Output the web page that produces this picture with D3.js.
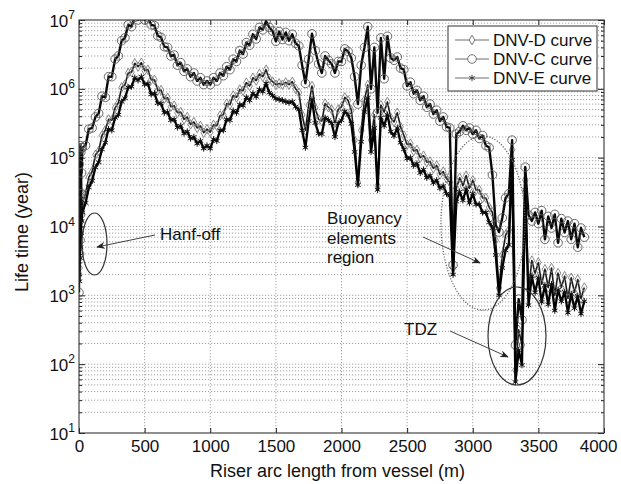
<!DOCTYPE html>
<html>
<head>
<meta charset="utf-8">
<script src="https://cdn.jsdelivr.net/npm/d3@7"></script>
<style>
  body { margin: 0; background: #fff; }
  text { font-family: "Liberation Sans", Arial, Helvetica, sans-serif; fill: #111; }
</style>
</head>
<body>
<svg id="chart" width="621" height="484"></svg>
<script>
// Arc length along the riser, measured from the vessel (m)
const arcLength = [
  0, 2, 4, 6, 8, 10, 12, 14, 16, 18, 20,
  25, 50, 75, 100, 125, 150, 175, 200,
  225, 250, 275, 300, 325, 350, 375, 400,
  425, 450, 475, 500, 525, 550, 575, 600,
  625, 650, 675, 700, 725, 750, 775, 800,
  825, 850, 875, 900, 925, 950, 975, 1000,
  1025, 1050, 1075, 1100, 1125, 1150, 1175, 1200,
  1225, 1250, 1275, 1300, 1325, 1350, 1375, 1400,
  1425, 1450, 1475, 1500, 1525, 1550, 1575, 1600,
  1625, 1650, 1675, 1700, 1725, 1750, 1775, 1800,
  1825, 1850, 1875, 1900, 1925, 1950, 1975, 2000,
  2025, 2050, 2075, 2100, 2125, 2150, 2175, 2200,
  2225, 2250, 2275, 2300, 2325, 2350, 2375, 2400,
  2425, 2450, 2475, 2500, 2525, 2550, 2575, 2600,
  2625, 2650, 2675, 2700, 2725, 2750, 2775, 2800,
  2825, 2850, 2875, 2900, 2925, 2950, 2975, 3000,
  3025, 3050, 3075, 3100, 3125, 3150, 3175, 3200,
  3225, 3250, 3275, 3300, 3325, 3350, 3375, 3400,
  3425, 3450, 3475, 3500, 3525, 3550, 3575, 3600,
  3625, 3650, 3675, 3700, 3725, 3750, 3775, 3800,
  3825, 3850
];

// Fatigue life (years) with the DNV-D S-N curve
const lifeDnvD = [
  3.3e3, 2.4e4, 2.5e3, 2.9e4, 5e3, 3.5e4, 8e3, 2.5e4, 1.2e4, 3e4, 1.8e4,
  2.2e4, 3.0e4, 5.2e4, 6.3e4, 1.1e5, 1.25e5, 2.1e5, 2.5e5,
  3.6e5, 3.5e5, 5.3e5, 6.3e5, 1.05e6, 1.15e6, 1.7e6, 1.75e6,
  2.35e6, 2.1e6, 2.4e6, 1.85e6, 1.9e6, 1.35e6, 1.35e6, 9.5e5,
  9.6e5, 7.2e5, 7.4e5, 5.5e5, 5.7e5, 4.5e5, 4.6e5, 3.6e5,
  3.9e5, 3.05e5, 3.3e5, 2.7e5, 2.9e5, 2.3e5, 2.6e5, 2.35e5,
  3.0e5, 2.9e5, 4.1e5, 4.2e5, 6.1e5, 5.9e5, 8.0e5, 7.5e5,
  9.8e5, 9.4e5, 1.23e6, 1.1e6, 1.45e6, 1.32e6, 1.65e6, 1.5e6,
  1.9e6, 1.4e6, 1.27e6, 1.15e6, 1.2e6, 1.15e6, 1.24e6, 1.15e6,
  1.27e6, 1.0e6, 8.8e5, 4.2e5, 2.5e5, 5.8e5, 1.1e6, 5.3e5,
  3.6e5, 3.4e5, 6.1e5, 5.4e5, 5.0e5, 3.2e5, 5.0e5, 5.5e5,
  7.5e5, 6.8e5, 4.9e5, 1.8e5, 4.4e4, 2.5e5, 6.9e5, 1.14e6,
  1.8e5, 4.2e5, 3.9e4, 5.8e5, 4.6e5, 6.45e5, 3.8e5, 3.3e5,
  4.5e5, 2.8e5, 2.1e5, 1.55e5, 1.6e5, 1.25e5, 1.3e5, 1.0e5,
  1.07e5, 8.6e4, 8.8e4, 7.0e4, 7.7e4, 5.7e4, 6.3e4, 5.0e4,
  4.4e4, 2.5e3, 3.6e4, 5.1e4, 3.9e4, 5.5e4, 3.6e4, 4.7e4,
  3.4e4, 3.4e4, 2.6e4, 2.6e4, 1.9e4, 1.6e4, 6.3e3, 1.28e3,
  3.85e3, 7.5e3, 8.9e3, 1.3e5, 82, 315, 190, 4.75e4,
  1.2e3, 3.2e3, 2.1e3, 3.0e3, 1.45e3, 2.4e3, 1.3e3, 2.5e3,
  1.0e3, 2.1e3, 1.3e3, 1.9e3, 900, 1.8e3, 1.1e3, 1.7e3,
  900, 1.3e3
];

// Fatigue life (years) with the DNV-C S-N curve
const lifeDnvC = [
  1.1e3, 8e4, 4e3, 1.3e5, 6.3e3, 1.5e5, 1.5e4, 1.2e5, 3e4, 1.4e5, 6e4,
  1.4e5, 1.5e5, 2.6e5, 2.7e5, 3.9e5, 4.4e5, 7.8e5, 7.5e5,
  1.5e6, 1.5e6, 2.7e6, 3.0e6, 5.0e6, 5.5e6, 8.5e6, 8.0e6,
  1.1e7, 1.0e7, 1.15e7, 1.0e7, 1.1e7, 8.5e6, 8.3e6, 5.9e6,
  5.6e6, 4.1e6, 4.0e6, 3.0e6, 3.1e6, 2.2e6, 2.4e6, 1.8e6,
  1.95e6, 1.5e6, 1.7e6, 1.3e6, 1.45e6, 1.15e6, 1.3e6, 1.15e6,
  1.45e6, 1.3e6, 1.7e6, 1.55e6, 2.1e6, 1.9e6, 2.7e6, 2.5e6,
  3.6e6, 3.2e6, 4.7e6, 4.3e6, 6.2e6, 5.3e6, 7.8e6, 7.2e6,
  9.6e6, 7.8e6, 6.9e6, 4.9e6, 6.8e6, 5.2e6, 6.6e6, 5.0e6,
  6.2e6, 4.6e6, 4.2e6, 2.2e6, 1.2e6, 2.7e6, 6.3e6, 3.6e6,
  2.3e6, 1.7e6, 3.0e6, 2.6e6, 2.3e6, 1.7e6, 2.5e6, 2.5e6,
  3.8e6, 3.5e6, 2.8e6, 1.5e6, 6.0e5, 2.2e6, 4.0e6, 8.0e6,
  1.0e6, 4.0e6, 4.5e5, 5.5e6, 1.4e6, 5.8e6, 2.8e6, 2.6e6,
  2.9e6, 2.0e6, 1.9e6, 1.1e6, 1.25e6, 8.5e5, 9.5e5, 6.8e5,
  7.8e5, 5.4e5, 6.0e5, 4.3e5, 4.9e5, 3.4e5, 3.9e5, 2.8e5,
  2.7e5, 2.75e3, 2.2e5, 2.4e5, 2.9e5, 2.5e5, 2.7e5, 2.2e5,
  2.5e5, 1.9e5, 2.1e5, 1.5e5, 1.4e5, 5.6e4, 1.05e4, 8.3e3,
  1.33e4, 2.6e4, 3.0e4, 1.8e5, 190, 880, 440, 7.3e4,
  1.47e4, 1.2e4, 1.6e4, 1.1e4, 1.7e4, 6.5e3, 1.4e4, 9.5e3,
  1.5e4, 5.8e3, 1.3e4, 8.2e3, 1.2e4, 6.5e3, 1.1e4, 5.0e3,
  9.5e3, 7.0e3
];

// Fatigue life (years) with the DNV-E S-N curve
const lifeDnvE = [
  2.0e3, 1.7e4, 1.6e3, 2.0e4, 3.5e3, 2.5e4, 5e3, 1.8e4, 8e3, 2.2e4, 1.2e4,
  1.6e4, 2.2e4, 3.7e4, 4.6e4, 7.2e4, 8.6e4, 1.32e5, 1.65e5,
  2.6e5, 2.5e5, 3.8e5, 4.2e5, 6.5e5, 7.3e5, 1.05e6, 1.08e6,
  1.45e6, 1.33e6, 1.5e6, 1.16e6, 1.19e6, 8.3e5, 8.6e5, 6.2e5,
  6.1e5, 4.5e5, 4.6e5, 3.5e5, 3.6e5, 2.75e5, 2.9e5, 2.25e5,
  2.4e5, 1.9e5, 2.0e5, 1.6e5, 1.75e5, 1.36e5, 1.5e5, 1.36e5,
  1.85e5, 1.75e5, 2.5e5, 2.5e5, 3.6e5, 3.5e5, 4.8e5, 4.5e5,
  5.9e5, 5.7e5, 7.5e5, 6.8e5, 8.6e5, 7.7e5, 9.8e5, 9.1e5,
  1.2e6, 8.8e5, 8.0e5, 7.2e5, 7.0e5, 6.8e5, 6.5e5, 6.3e5,
  6.5e5, 5.5e5, 5.0e5, 2.5e5, 1.4e5, 3.4e5, 7.0e5, 3.2e5,
  2.25e5, 2.2e5, 3.8e5, 3.5e5, 3.15e5, 2.0e5, 3.15e5, 3.5e5,
  4.7e5, 4.2e5, 3.1e5, 1.21e5, 4.0e4, 1.7e5, 4.6e5, 7.4e5,
  1.21e5, 2.7e5, 3.4e4, 3.8e5, 2.9e5, 4.2e5, 2.4e5, 2.07e5,
  2.7e5, 1.65e5, 1.32e5, 9.7e4, 1.0e5, 7.7e4, 8.2e4, 6.0e4,
  6.7e4, 5.1e4, 5.5e4, 4.3e4, 4.7e4, 3.6e4, 3.9e4, 3.0e4,
  2.8e4, 2.0e3, 2.3e4, 3.2e4, 2.4e4, 3.5e4, 2.2e4, 3.0e4,
  2.1e4, 2.1e4, 1.6e4, 1.6e4, 1.15e4, 9.5e3, 3.85e3, 1.0e3,
  2.5e3, 4.5e3, 5.4e3, 9.3e4, 55, 160, 97, 3.4e4,
  720, 1.9e3, 1.1e3, 1.8e3, 800, 1.4e3, 740, 1.45e3,
  600, 1.2e3, 820, 1.12e3, 560, 1.05e3, 650, 980,
  540, 820
];

const seriesNames = ["DNV-D curve", "DNV-C curve", "DNV-E curve"];
const xTickValues = [0, 500, 1000, 1500, 2000, 2500, 3000, 3500, 4000];
const yTickExponents = [1, 2, 3, 4, 5, 6, 7];

const svg = d3.select("#chart");
const plot = { left: 79, right: 604, top: 20, bottom: 433 };

const x = d3.scaleLinear().domain([0, 4000]).range([plot.left, plot.right]);
const y = d3.scaleLog().domain([10, 1e7]).range([plot.bottom, plot.top]);

// minor decade positions (2..9 x 10^n)
const minorY = [];
yTickExponents.slice(0, -1).forEach(e => {
  for (let k = 2; k <= 9; k++) minorY.push(k * Math.pow(10, e));
});
const majorY = yTickExponents.map(e => Math.pow(10, e));

const defs = svg.append("defs");
defs.append("clipPath").attr("id", "plotClip")
  .append("rect")
  .attr("x", plot.left).attr("y", plot.top)
  .attr("width", plot.right - plot.left).attr("height", plot.bottom - plot.top);

// ---- dotted grid ----
const grid = svg.append("g").attr("stroke", "#8c8c8c").attr("stroke-width", 0.8)
  .attr("stroke-dasharray", "1.2,1.8").attr("fill", "none");
grid.selectAll("line.gy").data(minorY.concat(majorY.slice(1, -1))).join("line")
  .attr("x1", plot.left).attr("x2", plot.right)
  .attr("y1", d => y(d)).attr("y2", d => y(d));
grid.selectAll("line.gx").data(xTickValues.slice(1, -1)).join("line")
  .attr("y1", plot.top).attr("y2", plot.bottom)
  .attr("x1", d => x(d)).attr("x2", d => x(d));

// ---- axes ----
const xAxis = svg.append("g").attr("transform", `translate(0,${plot.bottom})`)
  .call(d3.axisBottom(x).tickValues(xTickValues).tickSize(-5).tickPadding(7)
    .tickFormat(d3.format("d")));
xAxis.select(".domain").remove();
xAxis.selectAll("text").attr("font-size", 17).style("font-family", '"Liberation Sans", Arial, sans-serif');
xAxis.selectAll("line").attr("stroke", "#222");
// keep the last label inside the page
xAxis.selectAll(".tick").filter(d => d === 4000).select("text")
  .attr("text-anchor", "end").attr("x", 13);

const xAxisTop = svg.append("g").attr("transform", `translate(0,${plot.top})`)
  .call(d3.axisTop(x).tickValues(xTickValues).tickSize(-5).tickFormat(""));
xAxisTop.select(".domain").remove();
xAxisTop.selectAll("line").attr("stroke", "#222");

function yTicks(side, pos, values, len) {
  const axis = side === "left" ? d3.axisLeft(y) : d3.axisRight(y);
  const g = svg.append("g").attr("transform", `translate(${pos},0)`)
    .call(axis.tickValues(values).tickSize(-len).tickFormat(""));
  g.select(".domain").remove();
  g.selectAll("line").attr("stroke", "#222");
}
yTicks("left", plot.left, majorY, 6);
yTicks("left", plot.left, minorY, 3);
yTicks("right", plot.right, majorY, 6);
yTicks("right", plot.right, minorY, 3);

// power-of-ten labels
const yLabels = svg.append("g");
yTickExponents.forEach(e => {
  const t = yLabels.append("text")
    .attr("x", 75).attr("y", y(Math.pow(10, e)) + 6.5)
    .attr("text-anchor", "end").attr("font-size", 17);
  t.append("tspan").text("10");
  t.append("tspan").attr("dy", -7.5).attr("font-size", 12).text(e);
});

// ---- series ----
const symbols = {
  diamond: d3.symbol(d3.symbolDiamond, 26),
  circle: d3.symbol(d3.symbolCircle, 58),
  asterisk: d3.symbol(d3.symbolAsterisk, 28)
};
const series = [
  { name: seriesNames[0], values: lifeDnvD, sym: "diamond", line: "#1c1c1c", lw: 1.6, mk: "#7d7d7d", mw: 0.9 },
  { name: seriesNames[1], values: lifeDnvC, sym: "circle", line: "#0a0a0a", lw: 2.4, mk: "#5a5a5a", mw: 0.9 },
  { name: seriesNames[2], values: lifeDnvE, sym: "asterisk", line: "#000", lw: 2.3, mk: "#111", mw: 1.0 }
];

const lineGen = d3.line().x(d => x(d[0])).y(d => y(d[1]));
const plotArea = svg.append("g").attr("clip-path", "url(#plotClip)");
series.forEach(s => {
  const pts = arcLength.map((a, i) => [a, s.values[i]]);
  const g = plotArea.append("g");
  g.append("path").datum(pts)
    .attr("d", lineGen).attr("fill", "none")
    .attr("stroke", s.line).attr("stroke-width", s.lw).attr("stroke-linejoin", "round");
  g.selectAll("path.mk").data(pts).join("path").attr("class", "mk")
    .attr("transform", d => `translate(${x(d[0])},${y(d[1])})`)
    .attr("d", symbols[s.sym])
    .attr("fill", "none").attr("stroke", s.mk).attr("stroke-width", s.mw);
});

// frame
svg.append("rect")
  .attr("x", plot.left).attr("y", plot.top)
  .attr("width", plot.right - plot.left).attr("height", plot.bottom - plot.top)
  .attr("fill", "none").attr("stroke", "#333").attr("stroke-width", 1.1);

// ---- annotations ----
defs.append("marker").attr("id", "arrowHead")
  .attr("viewBox", "0 0 10 8").attr("refX", 9).attr("refY", 4)
  .attr("markerWidth", 9).attr("markerHeight", 7).attr("markerUnits", "userSpaceOnUse")
  .attr("orient", "auto")
  .append("path").attr("d", "M0,0 L10,4 L0,8 L3,4 Z").attr("fill", "#222");

const ann = svg.append("g");
ann.append("ellipse").attr("cx", 94.5).attr("cy", 244).attr("rx", 12.5).attr("ry", 31)
  .attr("fill", "none").attr("stroke", "#333").attr("stroke-width", 1.2);
ann.append("line").attr("x1", 155).attr("y1", 235).attr("x2", 97).attr("y2", 247)
  .attr("stroke", "#444").attr("stroke-width", 1).attr("marker-end", "url(#arrowHead)");
ann.append("text").attr("x", 160).attr("y", 240).attr("font-size", 17).text("Hanf-off");

ann.append("ellipse").attr("cx", 483).attr("cy", 223).attr("rx", 42).attr("ry", 87)
  .attr("fill", "none").attr("stroke", "#666").attr("stroke-width", 1.3)
  .attr("stroke-dasharray", "1.2,1.6");
ann.append("line").attr("x1", 423).attr("y1", 237).attr("x2", 480).attr("y2", 263)
  .attr("stroke", "#444").attr("stroke-width", 1).attr("marker-end", "url(#arrowHead)");
const buoy = ann.append("text").attr("x", 327).attr("y", 224).attr("font-size", 17);
["Buoyancy", "elements", "region"].forEach((w, i) => {
  buoy.append("tspan").attr("x", 327).attr("dy", i === 0 ? 0 : 19.5).text(w);
});

ann.append("ellipse").attr("cx", 517).attr("cy", 336).attr("rx", 29).attr("ry", 49)
  .attr("fill", "none").attr("stroke", "#333").attr("stroke-width", 1.2);
ann.append("line").attr("x1", 450).attr("y1", 331).attr("x2", 508).attr("y2", 357)
  .attr("stroke", "#444").attr("stroke-width", 1).attr("marker-end", "url(#arrowHead)");
ann.append("text").attr("x", 404).attr("y", 335).attr("font-size", 17).text("TDZ");

// ---- legend ----
const legend = svg.append("g");
legend.append("rect").attr("x", 448).attr("y", 26).attr("width", 149).attr("height", 65)
  .attr("fill", "#fff").attr("stroke", "#333").attr("stroke-width", 1);
series.forEach((s, i) => {
  const ly = 40 + i * 19;
  legend.append("line").attr("x1", 455).attr("x2", 489).attr("y1", ly).attr("y2", ly)
    .attr("stroke", "#6e6e6e").attr("stroke-width", 1);
  legend.append("path").attr("transform", `translate(472,${ly})`)
    .attr("d", symbols[s.sym]).attr("fill", i === 2 ? "#333" : "#fff")
    .attr("stroke", i === 2 ? "#333" : "#666").attr("stroke-width", 0.9);
  legend.append("text").attr("x", 493).attr("y", ly + 6).attr("font-size", 17).text(s.name);
});

// ---- axis titles ----
svg.append("text").attr("x", (plot.left + plot.right) / 2 - 4).attr("y", 477)
  .attr("text-anchor", "middle").attr("font-size", 18).text("Riser arc length from vessel (m)");
svg.append("text").attr("transform", `translate(28,232) rotate(-90)`)
  .attr("text-anchor", "middle").attr("font-size", 18).text("Life time (year)");
</script>
</body>
</html>
